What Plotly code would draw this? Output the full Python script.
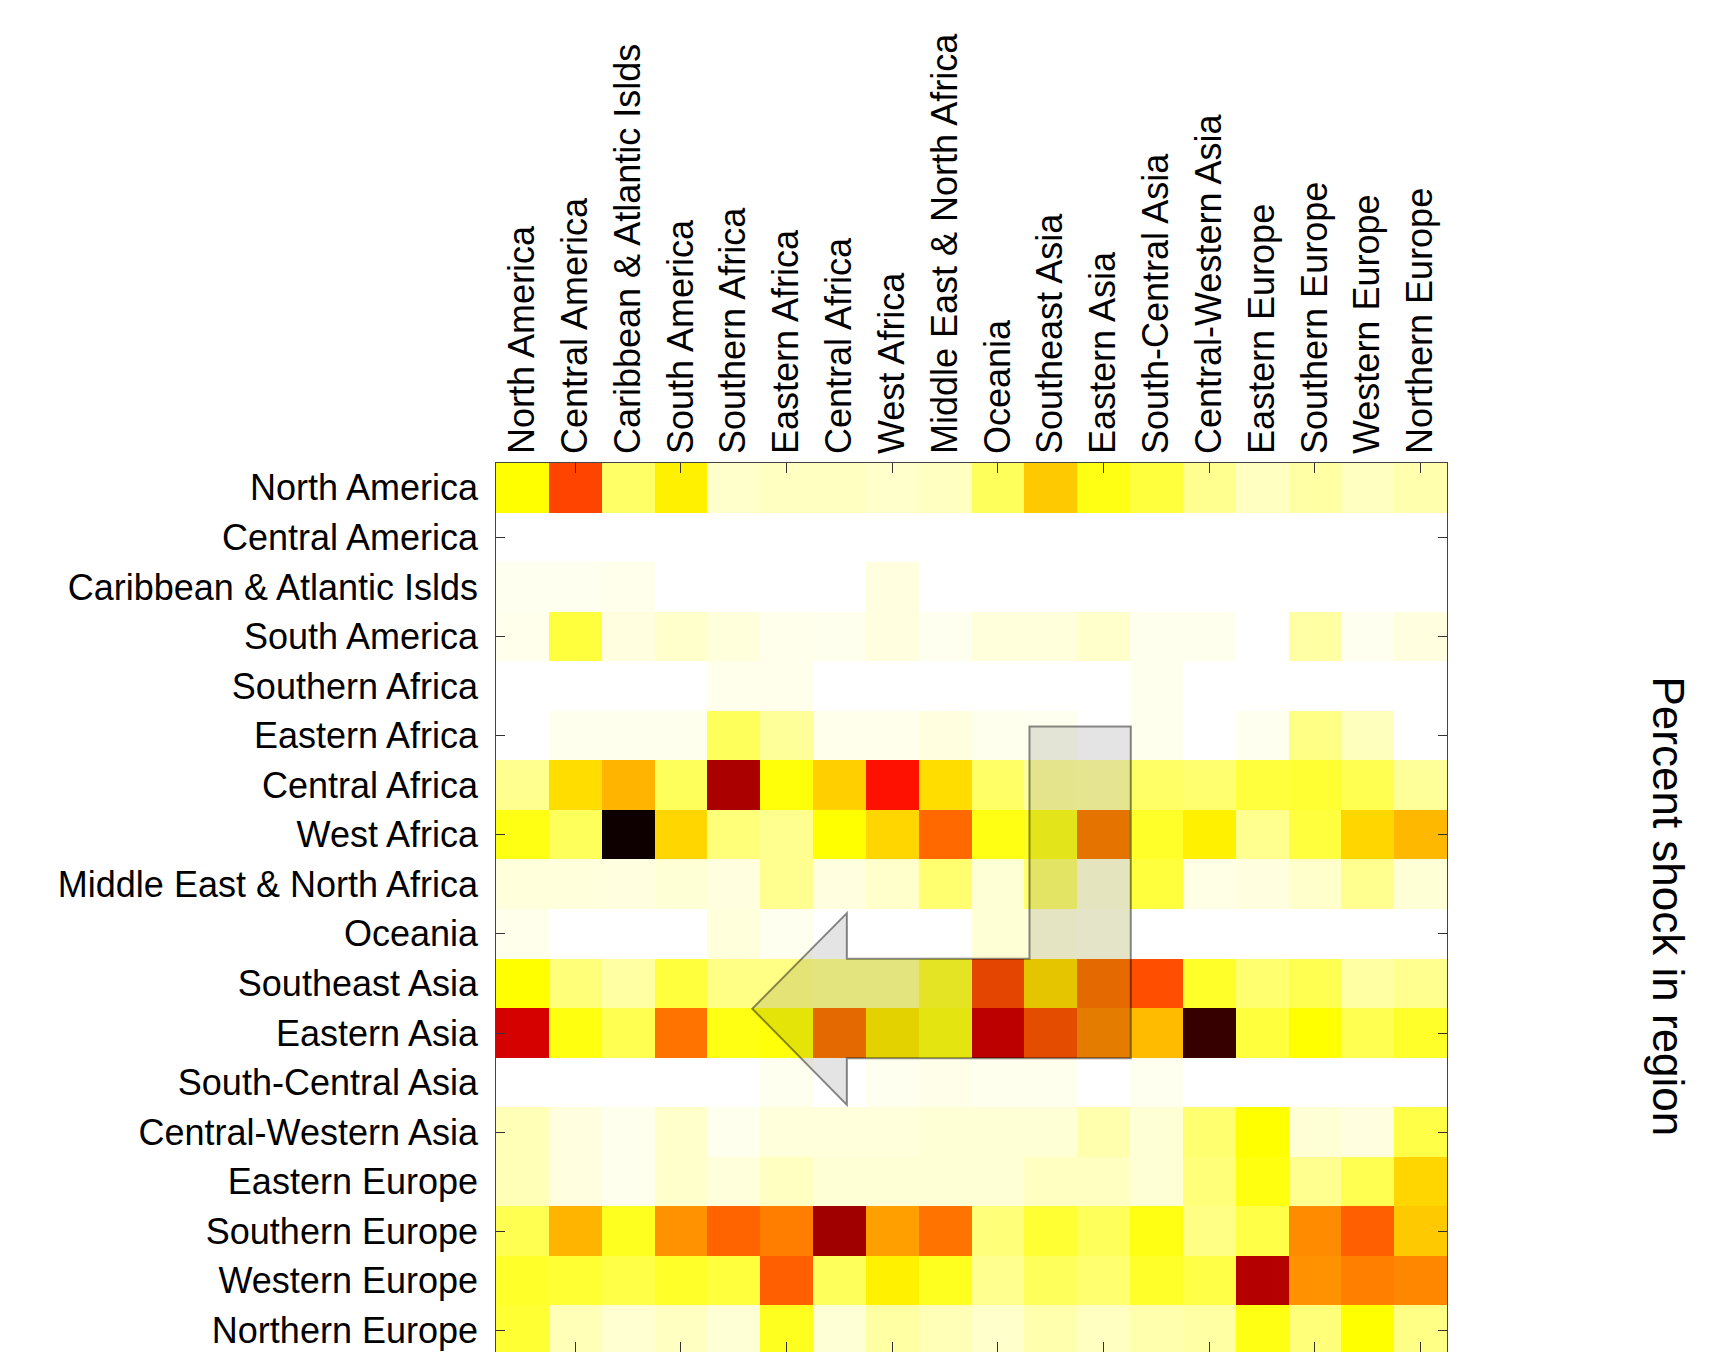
import plotly.graph_objects as go

# ---- categories -------------------------------------------------------
regions = [
    "North America", "Central America", "Caribbean & Atlantic Islds",
    "South America", "Southern Africa", "Eastern Africa", "Central Africa",
    "West Africa", "Middle East & North Africa", "Oceania", "Southeast Asia",
    "Eastern Asia", "South-Central Asia", "Central-Western Asia",
    "Eastern Europe", "Southern Europe", "Western Europe", "Northern Europe",
]

# ---- cell values (relative percent shock, 0..1), one list per row ----
north_america      = [0.25, 0.525, 0.15, 0.27, 0.05, 0.06, 0.06, 0.05, 0.06, 0.16, 0.33, 0.23, 0.19, 0.11, 0.06, 0.09, 0.06, 0.08]
central_america    = [0.0] * 18
caribbean          = [0.015, 0.015, 0.02, 0, 0, 0, 0, 0.03, 0, 0, 0, 0, 0, 0, 0, 0, 0, 0]
south_america      = [0.02, 0.19, 0.03, 0.05, 0.035, 0.02, 0.017, 0.03, 0.015, 0.035, 0.035, 0.05, 0.017, 0.017, 0, 0.09, 0.015, 0.03]
southern_africa    = [0, 0, 0, 0, 0.02, 0.02, 0, 0, 0, 0, 0, 0, 0.017, 0, 0, 0, 0, 0]
eastern_africa     = [0, 0.017, 0.017, 0.017, 0.16, 0.1, 0.02, 0.02, 0.03, 0.017, 0.015, 0, 0.017, 0, 0.015, 0.12, 0.065, 0]
central_africa     = [0.11, 0.3, 0.36, 0.16, 0.75, 0.24, 0.32, 0.6, 0.3, 0.15, 0.096, 0.09, 0.15, 0.14, 0.19, 0.2, 0.17, 0.1]
west_africa        = [0.23, 0.16, 0.98, 0.31, 0.13, 0.11, 0.25, 0.31, 0.47, 0.23, 0.22, 0.435, 0.21, 0.27, 0.11, 0.19, 0.31, 0.355]
mena               = [0.035, 0.035, 0.03, 0.04, 0.03, 0.11, 0.03, 0.05, 0.14, 0.04, 0.14, 0.04, 0.19, 0.025, 0.03, 0.05, 0.11, 0.04]
oceania            = [0.02, 0, 0, 0, 0.035, 0.015, 0, 0, 0, 0.04, 0.036, 0.03, 0, 0, 0, 0, 0, 0]
southeast_asia     = [0.25, 0.13, 0.09, 0.19, 0.12, 0.12, 0.11, 0.11, 0.21, 0.51, 0.30, 0.45, 0.51, 0.21, 0.14, 0.17, 0.09, 0.11]
eastern_asia       = [0.687, 0.235, 0.17, 0.456, 0.23, 0.24, 0.45, 0.28, 0.23, 0.69, 0.50, 0.42, 0.35, 0.92, 0.19, 0.25, 0.17, 0.21]
south_central_asia = [0, 0, 0, 0, 0, 0.015, 0, 0.015, 0.022, 0.017, 0.017, 0, 0.015, 0, 0, 0, 0, 0]
central_west_asia  = [0.07, 0.03, 0.017, 0.05, 0.017, 0.035, 0.035, 0.035, 0.04, 0.04, 0.04, 0.08, 0.04, 0.14, 0.25, 0.04, 0.03, 0.18]
eastern_europe     = [0.07, 0.03, 0.017, 0.05, 0.035, 0.06, 0.04, 0.04, 0.04, 0.04, 0.06, 0.06, 0.04, 0.13, 0.235, 0.11, 0.17, 0.31]
southern_europe    = [0.17, 0.36, 0.22, 0.41, 0.478, 0.44, 0.765, 0.39, 0.456, 0.13, 0.2, 0.16, 0.23, 0.12, 0.18, 0.42, 0.485, 0.33]
western_europe     = [0.21, 0.2, 0.18, 0.21, 0.19, 0.485, 0.16, 0.27, 0.22, 0.11, 0.16, 0.14, 0.21, 0.18, 0.735, 0.41, 0.437, 0.426]
northern_europe    = [0.2, 0.07, 0.045, 0.06, 0.04, 0.22, 0.04, 0.09, 0.07, 0.05, 0.08, 0.06, 0.08, 0.09, 0.23, 0.13, 0.25, 0.12]

rows = [north_america, central_america, caribbean, south_america, southern_africa,
        eastern_africa, central_africa, west_africa, mena, oceania, southeast_asia,
        eastern_asia, south_central_asia, central_west_asia, eastern_europe,
        southern_europe, western_europe, northern_europe]

# reversed MATLAB "hot" colormap
hot_r = [[0.0, "rgb(255,255,255)"], [0.25, "rgb(255,255,0)"],
         [0.625, "rgb(255,0,0)"], [1.0, "rgb(0,0,0)"]]

FONT = "Liberation Sans, Arial, Helvetica, sans-serif"
n = len(regions)
idx = list(range(n))
odd_ticks = list(range(1, n, 2))
y_range = [n - 0.565, -0.5]
x_range = [-0.5, n - 0.5]

fig = go.Figure()
fig.add_trace(go.Heatmap(
    z=rows, x=idx, y=idx, colorscale=hot_r, zmin=0, zmax=1,
    showscale=False, zsmooth=False, hoverinfo="skip",
))
# helper trace for the overlay axes that carry the tick marks / frame
fig.add_trace(go.Scatter(x=[None], y=[None], xaxis="x2", yaxis="y2",
                         showlegend=False, hoverinfo="skip"))

# arrow overlay (in cell coordinates)
arrow = ("M 9.597,4.817 L 11.515,4.817 L 11.515,11.51 L 6.141,11.51 "
         "L 6.141,12.45 L 4.35,10.51 L 6.141,8.58 L 6.141,9.50 L 9.597,9.50 Z")
fig.add_shape(type="path", path=arrow, xref="x", yref="y", layer="above",
              fillcolor="rgba(0,0,0,0.105)",
              line=dict(color="rgba(0,0,0,0.45)", width=2))

fig.add_annotation(text="Percent shock in region", xref="paper", yref="paper",
                   x=1.2325, y=0.501, xanchor="center", yanchor="middle",
                   textangle=90, showarrow=False,
                   font=dict(family=FONT, size=44, color="black"))

fig.update_layout(
    width=1722, height=1344,
    margin=dict(l=488, r=283, t=455, b=0, pad=0),
    paper_bgcolor="white", plot_bgcolor="white",
    font=dict(family=FONT, size=36, color="black"),
    showlegend=False,
    xaxis=dict(side="top", range=x_range, tickmode="array", tickvals=idx,
               ticktext=regions, tickangle=-90, ticks="", showline=False,
               showgrid=False, zeroline=False, ticklabelstandoff=8,
               tickfont=dict(family=FONT, size=36, color="black")),
    yaxis=dict(range=y_range, tickmode="array", tickvals=idx, ticktext=regions,
               ticks="", showline=False, showgrid=False, zeroline=False,
               ticklabelstandoff=17,
               tickfont=dict(family=FONT, size=36, color="black")),
    xaxis2=dict(overlaying="x", anchor="y2", side="bottom", range=x_range,
                tickmode="array", tickvals=odd_ticks, ticks="inside",
                ticklen=10, tickwidth=1.2, tickcolor="#333",
                showticklabels=False, showline=True, linecolor="#444",
                linewidth=1.2, mirror="ticks", showgrid=False, zeroline=False),
    yaxis2=dict(overlaying="y", anchor="x2", side="left", range=y_range,
                tickmode="array", tickvals=odd_ticks, ticks="inside",
                ticklen=9, tickwidth=1.2, tickcolor="#333",
                showticklabels=False, showline=True, linecolor="#444",
                linewidth=1.2, mirror="ticks", showgrid=False, zeroline=False),
)

fig.write_html("out.html")
